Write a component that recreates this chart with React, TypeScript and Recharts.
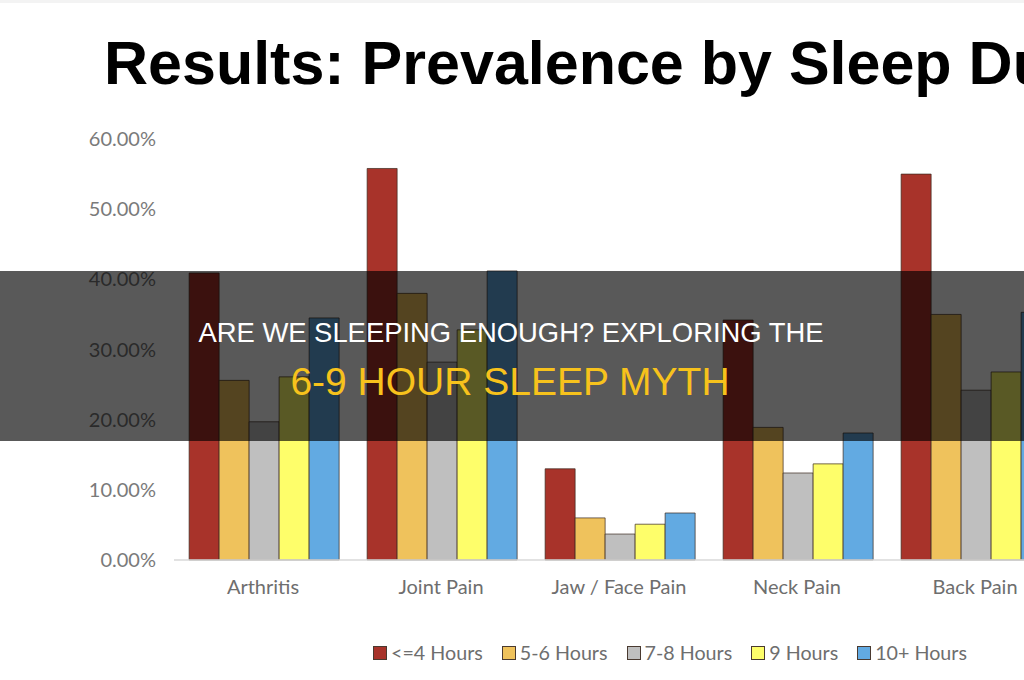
import { BarChart, Bar, XAxis, YAxis } from 'recharts'

const categories = ['Arthritis', 'Joint Pain', 'Jaw / Face Pain', 'Neck Pain', 'Back Pain']
const le4Hours = [40.9, 55.8, 13.0, 34.2, 55.0]
const h5to6 = [25.6, 38.0, 6.0, 18.9, 35.0]
const h7to8 = [19.7, 28.2, 3.7, 12.4, 24.2]
const h9 = [26.1, 32.8, 5.1, 13.7, 26.8]
const h10plus = [34.5, 41.2, 6.7, 18.1, 35.3]
const yTicks = [0, 10, 20, 30, 40, 50, 60]

const series = [
  { key: 'le4', name: '<=4 Hours', values: le4Hours, fill: '#a8332a' },
  { key: 'h56', name: '5-6 Hours', values: h5to6, fill: '#efc25c' },
  { key: 'h78', name: '7-8 Hours', values: h7to8, fill: '#bfbfbf' },
  { key: 'h9', name: '9 Hours', values: h9, fill: '#fefe6a' },
  { key: 'h10', name: '10+ Hours', values: h10plus, fill: '#62aae2' },
]

const data = categories.map((name, i) => {
  const row: Record<string, string | number> = { name }
  series.forEach((s) => {
    row[s.key] = s.values[i]
  })
  return row
})

const labelFont = 'Lato, "Open Sans", sans-serif'
const bannerFont = '"Liberation Sans", Arial, sans-serif'

export default function App() {
  return (
    <div
      style={{
        position: 'fixed',
        left: 0,
        top: 0,
        width: 1024,
        height: 680,
        overflow: 'hidden',
        background: '#fff',
      }}
    >
      <div style={{ position: 'absolute', left: 0, top: 0, width: 1024, height: 3, background: '#f3f3f3' }} />
      <div
        style={{
          position: 'absolute',
          left: 104,
          top: 28,
          whiteSpace: 'nowrap',
          fontFamily: '"Liberation Sans", Arial, sans-serif',
          fontWeight: 700,
          fontSize: 61,
          lineHeight: '70px',
          color: '#000',
        }}
      >
        Results: Prevalence by Sleep Duration
      </div>

      <div style={{ position: 'absolute', left: 0, top: 0 }}>
        <BarChart
          width={1072}
          height={680}
          data={data}
          margin={{ top: 139, right: 8, bottom: 80, left: 0 }}
          barCategoryGap="8.5%"
          barGap={0}
        >
          <XAxis
            dataKey="name"
            height={40}
            tickLine={false}
            axisLine={{ stroke: '#d9d9d9', strokeWidth: 1.5 }}
            tick={{ fill: '#6e6e6e', fontSize: 20, fontFamily: labelFont }}
            tickMargin={14}
          />
          <YAxis
            width={174}
            domain={[0, 60]}
            ticks={yTicks}
            interval={0}
            axisLine={false}
            tickLine={false}
            tickMargin={12}
            tickFormatter={(v: number) => `${v.toFixed(2)}%`}
            tick={{ fill: '#7a7a7a', fontSize: 20, fontFamily: labelFont }}
          />
          {series.map((s) => (
            <Bar
              key={s.key}
              dataKey={s.key}
              name={s.name}
              fill={s.fill}
              stroke="#3a2a20"
              strokeOpacity={0.7}
              strokeWidth={1}
              isAnimationActive={false}
            />
          ))}
        </BarChart>
      </div>

      <div
        style={{
          position: 'absolute',
          left: 373,
          top: 641,
          display: 'flex',
          alignItems: 'center',
          whiteSpace: 'nowrap',
          fontFamily: labelFont,
          fontSize: 19.7,
          color: '#6e6e6e',
        }}
      >
        {series.map((s) => (
          <div key={s.key} style={{ display: 'flex', alignItems: 'center', marginRight: 19 }}>
            <span
              style={{
                display: 'inline-block',
                width: 12,
                height: 12,
                background: s.fill,
                border: '1.5px solid #4a3a30',
                marginRight: 4,
              }}
            />
            <span>{s.name}</span>
          </div>
        ))}
      </div>

      <div
        style={{
          position: 'absolute',
          left: 0,
          top: 271,
          width: 1024,
          height: 170,
          background: 'rgba(0,0,0,0.65)',
        }}
      />
      <div
        style={{
          position: 'absolute',
          left: 0,
          top: 315,
          width: 1022,
          textAlign: 'center',
          fontFamily: bannerFont,
          fontSize: 27.4,
          lineHeight: '36px',
          color: '#ffffff',
          whiteSpace: 'nowrap',
        }}
      >
        ARE WE SLEEPING ENOUGH? EXPLORING THE
      </div>
      <div
        style={{
          position: 'absolute',
          left: 0,
          top: 358,
          width: 1020,
          textAlign: 'center',
          fontFamily: bannerFont,
          fontSize: 39,
          lineHeight: '48px',
          color: '#f7c21c',
          whiteSpace: 'nowrap',
        }}
      >
        6-9 HOUR SLEEP MYTH
      </div>
    </div>
  )
}
